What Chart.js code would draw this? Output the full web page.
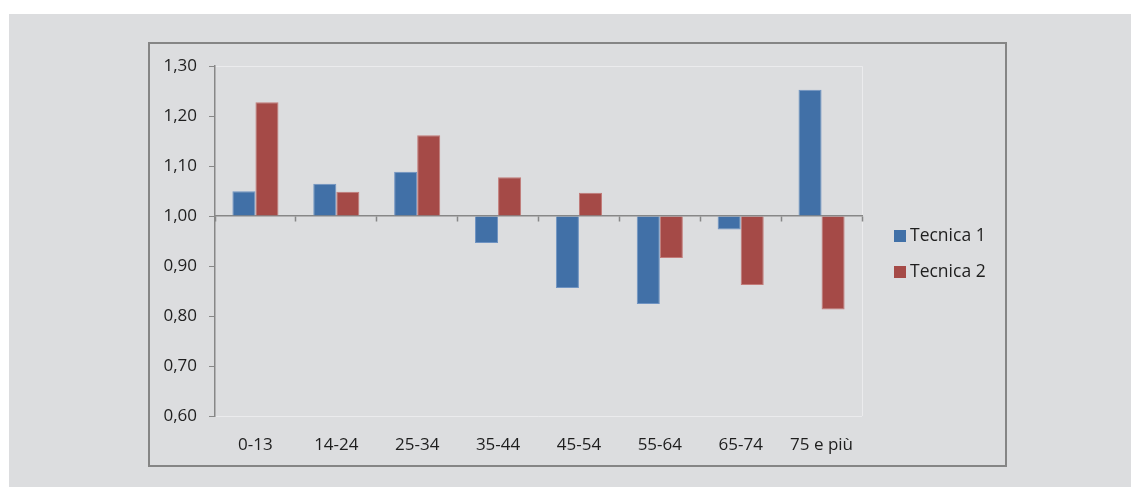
<!DOCTYPE html>
<html>
<head>
<meta charset="utf-8">
<script src="https://cdn.jsdelivr.net/npm/chart.js@4.4.1/dist/chart.umd.min.js"></script>
<style>
  html, body { margin: 0; padding: 0; background: #ffffff; }
  #bg {
    position: absolute; left: 9px; top: 14px;
    width: 1122px; height: 473px;
    background: #dcdddf;
  }
  #frame {
    position: absolute; left: 148px; top: 42px;
    width: 855px; height: 421px;
    border: 2px solid #858585;
  }
  canvas { display: block; }
</style>
</head>
<body>
<div id="bg"></div>
<div id="frame"><canvas id="ratioChart" width="855" height="421"></canvas></div>
<script>
// Age classes on the x axis
const categories = ["0-13", "14-24", "25-34", "35-44", "45-54", "55-64", "65-74", "75 e più"];

// Series values (ratio, bars start at 1.00)
const tecnica1 = [1.05, 1.065, 1.089, 0.946, 0.856, 0.824, 0.973, 1.253];
const tecnica2 = [1.228, 1.049, 1.162, 1.078, 1.047, 0.916, 0.862, 0.813];

// Y axis ticks
const yTicks = [0.6, 0.7, 0.8, 0.9, 1.0, 1.1, 1.2, 1.3];

const textColor = "#1e1e1e";
const axisColor = "#878787";
const faintColor = "#ebebed";
const font = { family: "'Open Sans', sans-serif", size: 17 };

const colorT1 = "#4170a7";
const colorT2 = "#a54a47";

function fmt(v) {
  return v.toFixed(2).replace(".", ",");
}

// Simple legend drawn at the right, like the original
const sideLegend = {
  id: "sideLegend",
  afterDraw(chart) {
    const ctx = chart.ctx;
    ctx.save();
    ctx.font = "17.5px 'Open Sans', sans-serif";
    ctx.textBaseline = "middle";
    ctx.textAlign = "left";
    chart.data.datasets.forEach((ds, i) => {
      const y = 186 + i * 36;
      ctx.fillStyle = ds.backgroundColor;
      ctx.fillRect(744, y, 12, 12);
      ctx.fillStyle = textColor;
      ctx.fillText(ds.label, 760, y + 6);
    });
    ctx.restore();
  },
};

const ratioChart = new Chart(document.getElementById("ratioChart"), {
  type: "bar",
  data: {
    labels: categories,
    datasets: [
      {
        label: "Tecnica 1",
        data: tecnica1,
        base: 1,
        backgroundColor: colorT1,
        borderColor: "#6f93c2",
        borderWidth: 1,
      },
      {
        label: "Tecnica 2",
        data: tecnica2,
        base: 1,
        backgroundColor: colorT2,
        borderColor: "#c27a78",
        borderWidth: 1,
      },
    ],
  },
  options: {
    responsive: false,
    devicePixelRatio: 1,
    animation: false,
    layout: { padding: { top: 19, right: 143, left: 0, bottom: 0 } },
    datasets: {
      bar: { categoryPercentage: 0.57, barPercentage: 1 },
    },
    plugins: {
      legend: { display: false },
      tooltip: { enabled: false },
    },
    scales: {
      x: {
        offset: true,
        grid: {
          offset: true,
          drawTicks: false,
          color: (c) => (c.type === "scale" ? faintColor : "transparent"),
        },
        border: { display: false },
        ticks: { color: textColor, font: font, padding: 19 },
        afterFit: (s) => { s.height = 49; },
      },
      x2: {
        type: "category",
        position: { y: 1 },
        offset: true,
        z: 1,
        grid: {
          offset: true,
          drawOnChartArea: false,
          tickLength: 5,
          tickColor: axisColor,
          tickWidth: 1.5,
        },
        border: { display: true, color: axisColor, width: 1.5 },
        ticks: { display: false },
      },
      y: {
        min: 0.6,
        max: 1.3,
        afterBuildTicks: (s) => { s.ticks = yTicks.map((v) => ({ value: v })); },
        grid: {
          color: (c) => {
            const v = c.tick ? c.tick.value : null;
            return v !== null && (Math.abs(v - 1.3) < 1e-6 || Math.abs(v - 0.6) < 1e-6) ? faintColor : "transparent";
          },
          tickColor: axisColor,
          tickLength: 6,
        },
        border: { display: true, color: axisColor, width: 1.5 },
        ticks: {
          color: textColor,
          font: font,
          padding: 12,
          callback: (v) => fmt(v),
        },
        afterFit: (s) => { s.width = 65; },
      },
    },
  },
  plugins: [sideLegend],
});
</script>
</body>
</html>
